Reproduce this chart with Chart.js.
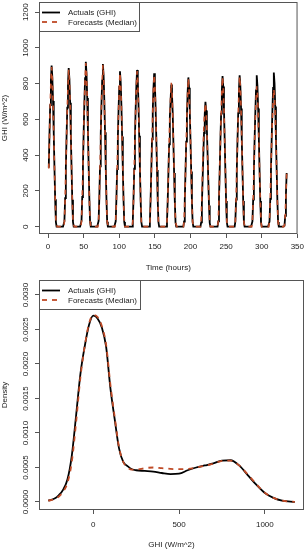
<!DOCTYPE html>
<html>
<head>
<meta charset="utf-8">
<script src="https://cdn.jsdelivr.net/npm/chart.js@4.4.0/dist/chart.umd.min.js"></script>
<style>
  body { margin: 0; background: #ffffff; }
  canvas { display: block; }
</style>
</head>
<body>
<canvas id="graficoSerie" width="308" height="275"></canvas>
<canvas id="graficoDensidade" width="308" height="275"></canvas>
<script>
// GHI horario (W/m^2), uma linha = um dia de 24 horas
const actualGhi = [
  330, 515, 680, 815, 901, 838, 703, 523, 333, 153, 27, 0, 0, 0, 0, 0, 0, 0, 0, 0, 0, 0, 31, 160,
  329, 506, 666, 799, 888, 826, 693, 515, 329, 151, 27, 0, 0, 0, 0, 0, 0, 0, 0, 0, 0, 0, 32, 166,
  342, 526, 692, 831, 923, 858, 720, 535, 342, 157, 28, 0, 0, 0, 0, 0, 0, 0, 0, 0, 0, 0, 32, 164,
  337, 519, 683, 819, 910, 846, 710, 528, 337, 155, 27, 0, 0, 0, 0, 0, 0, 0, 0, 0, 0, 0, 30, 156,
  322, 495, 652, 782, 869, 808, 678, 504, 322, 148, 26, 0, 0, 0, 0, 0, 0, 0, 0, 0, 0, 0, 31, 158,
  324, 500, 658, 789, 877, 816, 684, 509, 324, 149, 26, 0, 0, 0, 0, 0, 0, 0, 0, 0, 0, 0, 30, 154,
  317, 489, 644, 772, 858, 798, 669, 498, 317, 146, 26, 0, 0, 0, 0, 0, 0, 0, 0, 0, 0, 0, 28, 143,
  300, 460, 610, 700, 795, 740, 640, 470, 300, 140, 24, 0, 0, 0, 0, 0, 0, 0, 0, 0, 0, 0, 29, 150,
  309, 476, 626, 752, 835, 777, 651, 484, 309, 142, 25, 0, 0, 0, 0, 0, 0, 0, 0, 0, 0, 0, 24, 126,
  259, 398, 524, 629, 699, 650, 545, 405, 259, 119, 21, 0, 0, 0, 0, 0, 0, 0, 0, 0, 0, 0, 30, 152,
  312, 481, 632, 759, 843, 784, 658, 489, 312, 143, 25, 0, 0, 0, 0, 0, 0, 0, 0, 0, 0, 0, 30, 152,
  313, 483, 635, 762, 847, 788, 661, 491, 313, 144, 25, 0, 0, 0, 0, 0, 0, 0, 0, 0, 0, 0, 30, 152,
  313, 483, 635, 762, 847, 788, 661, 491, 313, 144, 25, 0, 0, 0, 0, 0, 0, 0, 0, 0, 0, 0, 30, 155,
  319, 491, 647, 776, 862, 802, 672, 500, 319, 147, 26, 0, 0, 0, 0, 0, 0, 0, 0, 5, 60, 180, 300
];

const forecastGhi = [
  325, 505, 672, 808, 893, 830, 700, 520, 338, 160, 32, 8, 0, 0, 0, 0, 0, 0, 0, 0, 0, 0, 28, 155,
  322, 500, 660, 792, 878, 820, 690, 520, 335, 158, 30, 12, 0, 0, 0, 0, 0, 0, 0, 0, 0, 0, 30, 160,
  335, 520, 688, 826, 915, 852, 716, 530, 345, 160, 30, 0, 0, 0, 0, 0, 0, 0, 0, 0, 0, 0, 30, 160,
  332, 514, 680, 815, 905, 840, 705, 525, 340, 158, 28, 10, 0, 0, 0, 0, 0, 0, 0, 0, 0, 0, 28, 150,
  318, 490, 647, 776, 860, 800, 672, 500, 325, 150, 30, 0, 0, 0, 0, 0, 0, 0, 0, 0, 0, 0, 30, 152,
  320, 495, 652, 782, 870, 810, 680, 505, 328, 152, 28, 14, 0, 0, 0, 0, 0, 0, 0, 0, 0, 0, 28, 150,
  312, 484, 640, 768, 850, 792, 664, 495, 320, 150, 30, 18, 8, 0, 0, 0, 0, 0, 0, 0, 0, 0, 28, 148,
  310, 470, 600, 720, 805, 760, 630, 480, 310, 140, 25, 10, 0, 0, 0, 0, 0, 0, 0, 0, 0, 0, 28, 148,
  305, 470, 620, 748, 830, 772, 648, 482, 312, 145, 28, 0, 0, 0, 0, 0, 0, 0, 0, 0, 0, 0, 40, 170,
  330, 470, 580, 650, 690, 640, 540, 400, 260, 120, 20, 0, 0, 0, 0, 0, 0, 0, 0, 0, 0, 0, 30, 150,
  308, 476, 628, 752, 838, 780, 655, 488, 315, 146, 28, 0, 0, 0, 0, 0, 0, 0, 0, 0, 0, 0, 30, 150,
  310, 478, 630, 756, 840, 782, 656, 490, 316, 146, 27, 0, 0, 0, 0, 0, 0, 0, 0, 0, 0, 0, 32, 152,
  305, 465, 600, 710, 785, 745, 630, 478, 310, 142, 26, 0, 0, 0, 0, 0, 0, 0, 0, 0, 0, 0, 35, 160,
  330, 480, 600, 700, 770, 730, 620, 470, 310, 140, 25, 0, 0, 0, 0, 0, 0, 0, 0, 8, 62, 178, 296
];

// hora de cada observacao (1 .. 336)
const hours = actualGhi.map((v, i) => i + 1);
const hourTicks = [0, 50, 100, 150, 200, 250, 300, 350];
const ghiTicks = [0, 200, 400, 600, 800, 1000, 1200];

// curvas de densidade do GHI
const ghiGrid = [-262, -225, -200, -175, -150, -125, -100, -75, -50, -25, 0, 25, 50, 75, 100, 125, 150, 175, 200, 225,
  250, 300, 350, 400, 450, 500, 550, 600, 650, 700, 750, 800, 850, 900, 950, 1000, 1050, 1100, 1175];
const densActual = [0.00002, 0.00005, 0.0001, 0.00018, 0.00033, 0.00067, 0.00125, 0.00185, 0.00225, 0.00256,
  0.0027, 0.00266, 0.00253, 0.00225, 0.00165, 0.0012, 0.00078, 0.00058, 0.00052, 0.000475,
  0.00046, 0.00045, 0.00044, 0.00042, 0.000405, 0.00041, 0.00046, 0.0005, 0.00053, 0.00056,
  0.0006, 0.000605, 0.00053, 0.00039, 0.00025, 0.00013, 0.00006, 0.00002, 0.000002];
const densForecast = [0.00002, 0.00004, 0.00008, 0.00015, 0.00028, 0.00058, 0.00115, 0.0018, 0.00225, 0.00258,
  0.00271, 0.00268, 0.00255, 0.00228, 0.0017, 0.00123, 0.0008, 0.00058, 0.0005, 0.00047,
  0.00047, 0.00049, 0.0005, 0.00049, 0.00048, 0.000475, 0.00048, 0.0005, 0.000525, 0.000555,
  0.000595, 0.0006, 0.00053, 0.0004, 0.00026, 0.000135, 0.00006, 0.00002, 0.000002];
const ghiDensTicks = [0, 500, 1000];
const densTicks = [0, 0.0005, 0.001, 0.0015, 0.002, 0.0025, 0.003];

const seriesNames = ['Actuals (GHI)', 'Forecasts (Median)'];
const seriesColors = ['#000000', '#bf4a26'];

const fonte = '"Liberation Sans", Arial, sans-serif';
Chart.defaults.font.family = fonte;
Chart.defaults.font.size = 8;
Chart.defaults.color = '#222222';

// caixa do grafico, rotulos do eixo y girados e legenda no canto
const estiloR = {
  id: 'estiloR',
  afterDraw(chart, args, opts) {
    const { ctx, chartArea: a } = chart;
    const escalaY = chart.scales.y;
    ctx.save();

    // legenda
    const lx = a.left + 0.5, ly = a.top + 0.5;
    ctx.fillStyle = '#ffffff';
    ctx.fillRect(lx, ly, opts.legendaW, 29);
    ctx.strokeStyle = '#555555';
    ctx.lineWidth = 1;
    ctx.strokeRect(lx, ly, opts.legendaW, 29);
    ctx.font = '8px ' + fonte;
    ctx.textAlign = 'left';
    ctx.textBaseline = 'middle';
    seriesNames.forEach((nome, i) => {
      const yy = ly + 10 + i * 9.5;
      ctx.beginPath();
      ctx.setLineDash(i === 0 ? [] : [5, 5]);
      ctx.strokeStyle = seriesColors[i];
      ctx.lineWidth = 1.8;
      ctx.moveTo(a.left + 3, yy);
      ctx.lineTo(a.left + 21, yy);
      ctx.stroke();
      ctx.fillStyle = '#222222';
      ctx.fillText(nome, a.left + 29, yy + 0.5);
    });
    ctx.setLineDash([]);

    // caixa
    ctx.strokeStyle = '#555555';
    ctx.lineWidth = 1;
    ctx.strokeRect(a.left + 0.5, a.top + 0.5, a.right - a.left - 1, a.bottom - a.top - 1);

    // rotulos do eixo y (verticais, como no R)
    ctx.fillStyle = '#222222';
    ctx.font = '8px ' + fonte;
    ctx.textAlign = 'center';
    ctx.textBaseline = 'middle';
    escalaY.ticks.forEach(t => {
      ctx.save();
      ctx.translate(26, escalaY.getPixelForValue(t.value));
      ctx.rotate(-Math.PI / 2);
      ctx.fillText(opts.formato(t.value), 0, 0);
      ctx.restore();
    });
    ctx.restore();
  }
};

function eixoX(min, max, marcas, titulo, pad, padTitulo, altura) {
  return {
    type: 'linear', min: min, max: max,
    afterBuildTicks: s => { s.ticks = marcas.map(v => ({ value: v })); },
    afterFit: s => { s.height = altura; },
    grid: { drawOnChartArea: false, drawTicks: true, tickLength: 4, color: '#555555' },
    border: { display: false },
    ticks: { padding: pad, maxRotation: 0, autoSkip: false, font: { size: 8 }, callback: v => String(v) },
    title: { display: true, text: titulo, padding: { top: 0, bottom: padTitulo }, font: { size: 8 } }
  };
}

function eixoY(min, max, marcas, titulo) {
  return {
    min: min, max: max,
    afterBuildTicks: s => { s.ticks = marcas.map(v => ({ value: v })); },
    afterFit: s => { s.width = 39; },
    grid: { drawOnChartArea: false, drawTicks: true, tickLength: 4, color: '#555555' },
    border: { display: false },
    ticks: { display: false },
    title: { display: true, text: titulo, padding: 0, font: { size: 8 } }
  };
}

function constroiGraficoSerie() {
  const config = {
    type: 'line',
    data: {
      labels: hours,
      datasets: [
        { label: seriesNames[0], data: actualGhi, borderColor: seriesColors[0], borderWidth: 1.8, order: 1 },
        { label: seriesNames[1], data: forecastGhi, borderColor: seriesColors[1], borderWidth: 1.6, borderDash: [5, 5], order: 0 }
      ]
    },
    options: {
      responsive: false,
      animation: false,
      layout: { padding: { top: 2, right: 4, left: 0, bottom: 0 } },
      elements: { point: { radius: 0 }, line: { tension: 0 } },
      plugins: {
        legend: { display: false },
        tooltip: { enabled: false },
        estiloR: { legendaW: 100, formato: v => String(v) }
      },
      scales: {
        x: eixoX(-12.7, 350.3, hourTicks, 'Time (hours)', 4, 2, 41),
        y: eixoY(-41, 1257, ghiTicks, 'GHI (W/m^2)')
      }
    },
    plugins: [estiloR]
  };
  new Chart(document.getElementById('graficoSerie'), config);
}

function constroiGraficoDensidade() {
  const pontos = dens => ghiGrid.map((g, i) => ({ x: g, y: dens[i] }));
  const config = {
    type: 'line',
    data: {
      datasets: [
        { label: seriesNames[0], data: pontos(densActual), borderColor: seriesColors[0], borderWidth: 1.8, order: 1 },
        { label: seriesNames[1], data: pontos(densForecast), borderColor: seriesColors[1], borderWidth: 1.8, borderDash: [5, 5], order: 0 }
      ]
    },
    options: {
      responsive: false,
      animation: false,
      layout: { padding: { top: 5, right: 4, left: 0, bottom: 0 } },
      elements: { point: { radius: 0 }, line: { cubicInterpolationMode: 'monotone' } },
      plugins: {
        legend: { display: false },
        tooltip: { enabled: false },
        estiloR: { legendaW: 101, formato: v => v.toFixed(4) }
      },
      scales: {
        x: eixoX(-316, 1228, ghiDensTicks, 'GHI (W/m^2)', 6, 0, 40),
        y: eixoY(-0.000116, 0.003217, densTicks, 'Density')
      }
    },
    plugins: [estiloR]
  };
  new Chart(document.getElementById('graficoDensidade'), config);
}

constroiGraficoSerie();
constroiGraficoDensidade();
</script>
</body>
</html>
